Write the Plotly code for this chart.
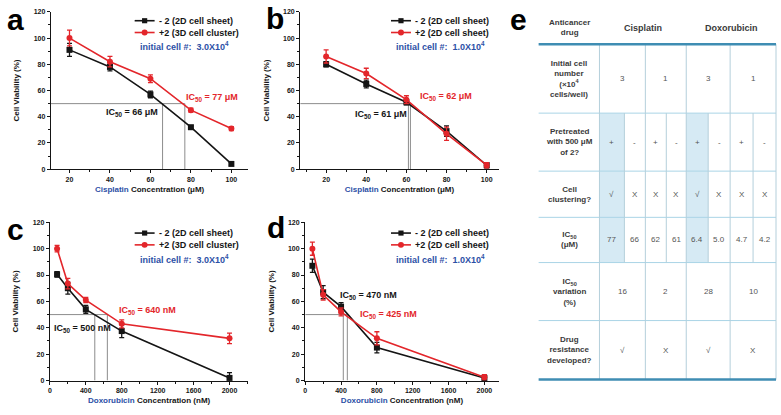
import plotly.graph_objects as go

W, H = 781, 415
def px(x): return x / W
def py(y): return 1 - y / H

FONT = "Arial, Liberation Sans, sans-serif"
BLACK = "#151515"
RED = "#e3262b"
BLUE = "#2c50a6"
GUIDE = "#8c8c8c"

# ---------------- data ----------------
cis_conc = [20, 40, 60, 80, 100]
dox_conc = [80, 200, 400, 800, 2000]

a_minus = [91, 78, 57, 32, 4]
a_minus_err = [5, 3, 2.5, 1, 1]
a_plus = [100, 82, 69, 45, 31]
a_plus_err = [6, 4, 3, 1.5, 1.5]

b_minus = [80, 65, 51, 29, 3]
b_minus_err = [2, 3, 2, 4, 2]
b_plus = [86, 73, 53, 27, 3]
b_plus_err = [5, 4, 3, 5, 2]

c_minus = [80.5, 70, 54, 37.5, 2]
c_minus_err = [2, 4.5, 3, 5, 4]
c_plus = [100, 73.5, 61, 43, 32]
c_plus_err = [2.5, 4, 2, 3, 4]

d_minus = [87, 67, 56, 25, 2]
d_minus_err = [5, 5, 3, 4, 2]
d_plus = [100, 65, 52, 32, 2.5]
d_plus_err = [5, 4, 3, 5, 2]

ic50_a = [66, 77]
ic50_b = [61, 62]
ic50_c = [500, 640]
ic50_d = [470, 425]

legend_3d = ["- 2 (2D cell sheet)", "+2 (3D cell cluster)"]
legend_2d = ["- 2 (2D cell sheet)", "+2 (2D cell sheet)"]
initial_cells = ["3.0X10<sup>4</sup>", "1.0X10<sup>4</sup>", "3.0X10<sup>4</sup>", "1.0X10<sup>4</sup>"]

y_ticks = [0, 20, 40, 60, 80, 100, 120]

# table data
tbl_header = ["Anticancer<br>drug", "Cisplatin", "Doxorubicin"]
tbl_row_labels = ["Initial cell<br>number<br>(×10<sup>4</sup><br>cells/well)",
                  "Pretreated<br>with 500 μM<br>of 2?",
                  "Cell<br>clustering?",
                  "IC<sub>50</sub><br>(μM)",
                  "IC<sub>50</sub><br>variation<br>(%)",
                  "Drug<br>resistance<br>developed?"]
tbl_initial = ["3", "1", "3", "1"]
tbl_pretreated = ["+", "-", "+", "-", "+", "-", "+", "-"]
tbl_clustering = ["√", "X", "X", "X", "√", "X", "X", "X"]
tbl_ic50 = ["77", "66", "62", "61", "6.4", "5.0", "4.7", "4.2"]
tbl_variation = ["16", "2", "28", "10"]
tbl_resistance = ["√", "X", "√", "X"]
tbl_rows = [tbl_initial, tbl_pretreated, tbl_clustering, tbl_ic50, tbl_variation, tbl_resistance]
tbl_shaded_cols = [0, 4]

# ---------------- layout geometry (pixels) ----------------
panels = [
    dict(letter="a", conc=cis_conc, minus=a_minus, minus_err=a_minus_err, plus=a_plus, plus_err=a_plus_err,
         ic=ic50_a, unit="μM", drug="Cisplatin", legend=legend_3d, init=initial_cells[0],
         dom_x=(49, 247), dom_y=(8, 168), xrange=(10.8, 108.4), dtick=20, minor=10,
         ic_pos=[(36.9, 43.5), (76.4, 54.7)], leg=(133, 17), letter_pos=(14, 16)),
    dict(letter="b", conc=cis_conc, minus=b_minus, minus_err=b_minus_err, plus=b_plus, plus_err=b_plus_err,
         ic=ic50_b, unit="μM", drug="Cisplatin", legend=legend_2d, init=initial_cells[1],
         dom_x=(299, 498), dom_y=(8, 168), xrange=(7.1, 106), dtick=20, minor=10,
         ic_pos=[(33.4, 42), (65.7, 55.6)], leg=(390, 17), letter_pos=(274, 15)),
    dict(letter="c", conc=dox_conc, minus=c_minus, minus_err=c_minus_err, plus=c_plus, plus_err=c_plus_err,
         ic=ic50_c, unit="nM", drug="Doxorubicin", legend=legend_3d, init=initial_cells[2],
         dom_x=(48, 247), dom_y=(222, 383), xrange=(0, 2210), dtick=400, minor=200,
         ic_pos=[(22, 39.5), (744, 53)], leg=(133, 233), letter_pos=(14, 229)),
    dict(letter="d", conc=dox_conc, minus=d_minus, minus_err=d_minus_err, plus=d_plus, plus_err=d_plus_err,
         ic=ic50_d, unit="nM", drug="Doxorubicin", legend=legend_2d, init=initial_cells[3],
         dom_x=(304, 498), dom_y=(222, 383), xrange=(0, 2160), dtick=400, minor=200,
         ic_pos=[(367, 64.3), (585, 50)], leg=(390, 233), letter_pos=(275, 227)),
]


def bold(size, color):
    return dict(family=FONT, size=size, color=color, weight="bold")


fig = go.Figure()
shapes = []
annotations = []

for i, p in enumerate(panels):
    n = "" if i == 0 else str(i + 1)
    xa, ya = "x" + n, "y" + n
    for vals, errs, color, sym in [(p["minus"], p["minus_err"], BLACK, "square"),
                                   (p["plus"], p["plus_err"], RED, "circle")]:
        fig.add_trace(go.Scatter(
            x=p["conc"], y=vals, xaxis=xa, yaxis=ya, mode="lines+markers",
            line=dict(color=color, width=1.6),
            marker=dict(symbol=sym, size=6, color=color),
            error_y=dict(type="data", array=errs, color=color, thickness=1.3, width=2.5),
            cliponaxis=False, showlegend=False, hoverinfo="skip"))

    axis_common = dict(showline=True, linecolor=BLACK, linewidth=1.3, ticks="outside", ticklen=3,
                       tickwidth=1.2, tickcolor=BLACK, showgrid=False, zeroline=False,
                       tickfont=bold(7, BLACK))
    fig.update_layout(**{
        "xaxis" + n: dict(domain=[px(p["dom_x"][0]), px(p["dom_x"][1])], range=list(p["xrange"]),
                          anchor=ya, tickmode="linear", tick0=0, dtick=p["dtick"],
                          minor=dict(ticks="outside", ticklen=2, tickcolor=BLACK, dtick=p["minor"], tick0=0),
                          title=dict(text=f"<span style='color:{BLUE}'>{p['drug']}</span> Concentration ({p['unit']})",
                                     font=bold(8, BLACK), standoff=4),
                          **axis_common),
        "yaxis" + n: dict(domain=[py(p["dom_y"][1]), py(p["dom_y"][0])], range=[0, 120],
                          anchor=xa, tickvals=y_ticks,
                          minor=dict(ticks="outside", ticklen=2, tickcolor=BLACK, dtick=10, tick0=0),
                          title=dict(text="Cell Viability (%)", font=bold(8, BLACK), standoff=12),
                          **axis_common),
    })

    # IC50 guide lines
    xref, yref = xa, ya
    shapes.append(dict(type="line", xref=xref, yref=yref, x0=p["xrange"][0], x1=max(p["ic"]), y0=50, y1=50,
                       line=dict(color=GUIDE, width=1), layer="below"))
    for v in p["ic"]:
        shapes.append(dict(type="line", xref=xref, yref=yref, x0=v, x1=v, y0=0, y1=50,
                           line=dict(color=GUIDE, width=1), layer="below"))
    for (tx, ty), v, color in zip(p["ic_pos"], p["ic"], [BLACK, RED]):
        annotations.append(dict(xref=xref, yref=yref, x=tx, y=ty, xanchor="left", yanchor="middle",
                                text=f"IC<sub>50</sub> = {v} {p['unit']}", showarrow=False,
                                font=bold(9, color)))

    # legend (manual)
    lx, ly = p["leg"]
    for k, (color, sym, label) in enumerate([(BLACK, "sq", p["legend"][0]), (RED, "ci", p["legend"][1])]):
        yy = ly + 12 * k
        shapes.append(dict(type="line", xref="paper", yref="paper", x0=px(lx), x1=px(lx + 20),
                           y0=py(yy), y1=py(yy), line=dict(color=color, width=1.6)))
        r = 2.6 if sym == "sq" else 3
        shapes.append(dict(type="rect" if sym == "sq" else "circle", xref="paper", yref="paper",
                           x0=px(lx + 10 - r), x1=px(lx + 10 + r), y0=py(yy + r), y1=py(yy - r),
                           fillcolor=color, line=dict(color=color, width=0)))
        annotations.append(dict(xref="paper", yref="paper", x=px(lx + 22), y=py(yy), xanchor="left",
                                yanchor="middle", text=label, showarrow=False, font=bold(9, BLACK)))
    annotations.append(dict(xref="paper", yref="paper", x=px(lx + 3), y=py(ly + 26), xanchor="left",
                            yanchor="middle", text=f"initial cell #:  {p['init']}", showarrow=False,
                            font=bold(9, BLUE)))

    # panel letter
    lpx, lpy = p["letter_pos"]
    annotations.append(dict(xref="paper", yref="paper", x=px(lpx), y=py(lpy), xanchor="center",
                            yanchor="middle", showarrow=False, text=p["letter"], font=bold(30, "#000000")))

# ---------------- table (panel e) ----------------
T_LEFT, T_LABEL_R, T_RIGHT = 538, 599, 776
col_edges = [599, 624, 645, 666, 686, 708, 730, 753, 776]
row_edges = [41, 111, 170, 217, 263, 322, 382]
THICK = "#3f8db3"
HLINE = "#a9d4e6"
VLINE = "#b4cfdb"
SHADE = "#d6eaf4"
TXT = "#3a3a3a"
VAL = "#555555"

# shading
for r, vals in enumerate(tbl_rows):
    if len(vals) == 8:
        for c in tbl_shaded_cols:
            shapes.append(dict(type="rect", xref="paper", yref="paper", layer="below",
                               x0=px(col_edges[c]), x1=px(col_edges[c + 1]),
                               y0=py(row_edges[r + 1]), y1=py(row_edges[r]),
                               fillcolor=SHADE, line=dict(width=0)))
# horizontal lines
for yy in row_edges[1:-1]:
    shapes.append(dict(type="line", xref="paper", yref="paper", x0=px(T_LEFT), x1=px(T_RIGHT),
                       y0=py(yy), y1=py(yy), line=dict(color=HLINE, width=1)))
# vertical lines
for xx in (T_LABEL_R, T_RIGHT):
    shapes.append(dict(type="line", xref="paper", yref="paper", x0=px(xx), x1=px(xx),
                       y0=py(row_edges[0]), y1=py(row_edges[-1]), line=dict(color=VLINE, width=1)))
for r, vals in enumerate(tbl_rows):
    step = 8 // len(vals)
    for k in range(step, 8, step):
        shapes.append(dict(type="line", xref="paper", yref="paper", x0=px(col_edges[k]), x1=px(col_edges[k]),
                           y0=py(row_edges[r]), y1=py(row_edges[r + 1]), line=dict(color=VLINE, width=1)))
# thick top / bottom
for yy in (row_edges[0], row_edges[-1]):
    shapes.append(dict(type="line", xref="paper", yref="paper", x0=px(T_LEFT), x1=px(T_RIGHT),
                       y0=py(yy), y1=py(yy), line=dict(color=THICK, width=2.6)))

# header text
annotations.append(dict(xref="paper", yref="paper", x=px((T_LEFT + T_LABEL_R) / 2), y=py(24),
                        xanchor="center", yanchor="middle", showarrow=False, text=tbl_header[0],
                        font=bold(8, TXT)))
for j, name in enumerate(tbl_header[1:]):
    annotations.append(dict(xref="paper", yref="paper", x=px((col_edges[4 * j] + col_edges[4 * j + 4]) / 2),
                            y=py(24), xanchor="center", yanchor="middle", showarrow=False,
                            text=name, font=bold(9, TXT)))
# body text
for r, (label, vals) in enumerate(zip(tbl_row_labels, tbl_rows)):
    yc = (row_edges[r] + row_edges[r + 1]) / 2
    annotations.append(dict(xref="paper", yref="paper", x=px((T_LEFT + T_LABEL_R) / 2), y=py(yc),
                            xanchor="center", yanchor="middle", showarrow=False, text=label,
                            font=bold(8, TXT)))
    step = 8 // len(vals)
    for k, v in enumerate(vals):
        xc = (col_edges[k * step] + col_edges[k * step + step]) / 2
        annotations.append(dict(xref="paper", yref="paper", x=px(xc), y=py(yc), xanchor="center",
                                yanchor="middle", showarrow=False, text=v,
                                font=dict(family=FONT, size=8, color=VAL)))
annotations.append(dict(xref="paper", yref="paper", x=px(518), y=py(16), xanchor="center", yanchor="middle",
                        showarrow=False, text="e", font=bold(30, "#000000")))

fig.update_layout(width=W, height=H, margin=dict(l=0, r=0, t=0, b=0),
                  paper_bgcolor="white", plot_bgcolor="rgba(0,0,0,0)",
                  shapes=shapes, annotations=annotations, showlegend=False,
                  font=dict(family=FONT))
fig.write_html("out.html", config={"displayModeBar": False},
               post_script="document.body.style.margin='0';document.body.style.overflow='hidden';")
